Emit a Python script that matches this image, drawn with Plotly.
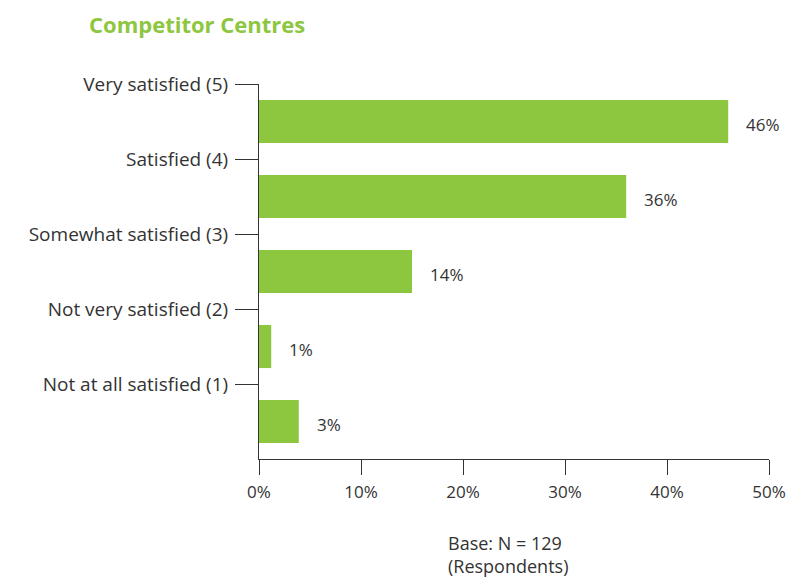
import plotly.graph_objects as go

categories = ["Very satisfied (5)", "Satisfied (4)", "Somewhat satisfied (3)",
              "Not very satisfied (2)", "Not at all satisfied (1)"]
values = [46.0, 36.0, 15.0, 1.2, 3.9]
value_labels = ["46%", "36%", "14%", "1%", "3%"]
x_ticks = [0, 10, 20, 30, 40, 50]
x_tick_labels = ["0%", "10%", "20%", "30%", "40%", "50%"]

GREEN = "#8DC63F"
TEXT = "#333333"
FONT = "'Open Sans', 'Noto Sans', sans-serif"

pos = list(range(len(categories)))

fig = go.Figure()
fig.add_trace(go.Bar(
    x=values, y=pos, orientation="h", width=0.575,
    marker=dict(color=GREEN, line=dict(width=0)),
    hoverinfo="skip", showlegend=False,
))

for p, v, t in zip(pos, values, value_labels):
    fig.add_annotation(x=v, y=p, text=t, xanchor="left", yanchor="middle",
                       xshift=16, yshift=-3, showarrow=False,
                       font=dict(family=FONT, size=17, color=TEXT))

fig.add_annotation(text="Competitor Centres", xref="paper", yref="paper",
                   x=-0.337, y=1.0, xanchor="left", yanchor="bottom", yshift=43,
                   showarrow=False,
                   font=dict(family=FONT, size=22, color=GREEN, weight="bold"))

fig.add_annotation(text="Base: N = 129<br>(Respondents)", xref="paper", yref="paper",
                   x=0.366, y=0, xanchor="left", yanchor="top", yshift=-70,
                   showarrow=False, align="left",
                   font=dict(family=FONT, size=18, color=TEXT))

fig.update_layout(
    width=787, height=572,
    margin=dict(l=251, r=26, t=76, b=121, autoexpand=False),
    paper_bgcolor="white", plot_bgcolor="white",
    font=dict(family=FONT, size=17, color=TEXT),
)
fig.update_xaxes(
    range=[0, 50], tickvals=x_ticks, ticktext=x_tick_labels,
    showgrid=False, zeroline=False, showline=True, linecolor=TEXT, linewidth=1,
    ticks="outside", ticklen=15, tickcolor=TEXT, tickwidth=1, automargin=False,
    ticklabelstandoff=3,
    tickfont=dict(family=FONT, size=17, color=TEXT), fixedrange=True,
)
fig.update_yaxes(
    range=[len(categories) - 0.5, -0.5],
    tickvals=[p - 0.5 for p in pos], ticktext=categories,
    showgrid=False, zeroline=False, showline=True, linecolor=TEXT, linewidth=1,
    ticks="outside", ticklen=23, tickcolor=TEXT, tickwidth=1, automargin=False,
    ticklabelstandoff=3,
    tickfont=dict(family=FONT, size=19, color=TEXT), fixedrange=True,
)

fig.write_html("out.html")
